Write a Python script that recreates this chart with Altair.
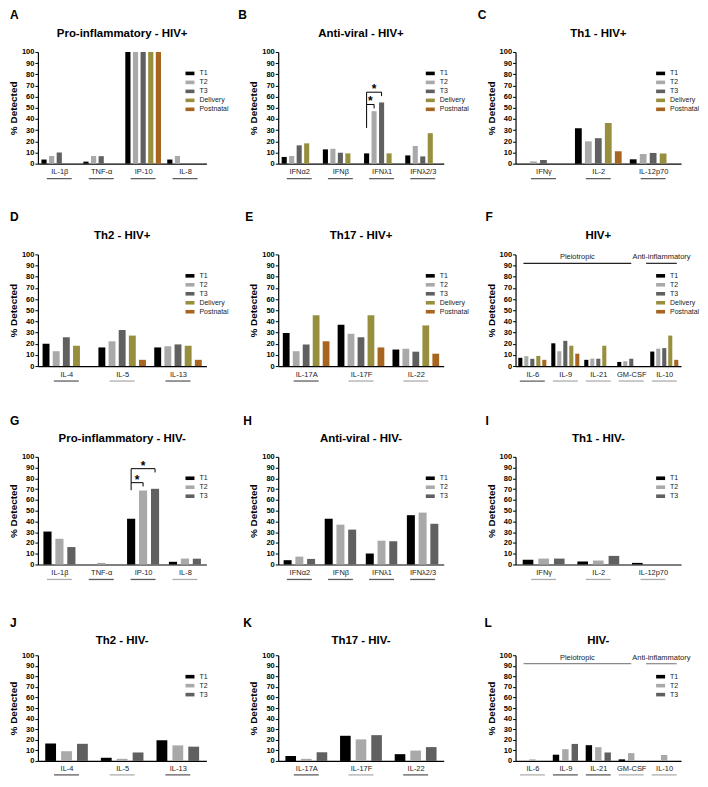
import json
import altair as alt
import pandas as pd

FONT = "Liberation Sans"

# ---------------- data ----------------
SERIES_HIV_POS = ["T1", "T2", "T3", "Delivery", "Postnatal"]
SERIES_HIV_NEG = ["T1", "T2", "T3"]
SERIES_COLORS = {"T1": "#000000", "T2": "#a9a9a9", "T3": "#606060",
                 "Delivery": "#978f3e", "Postnatal": "#a7651f"}

PRO_INFLAMMATORY = ["IL-1β", "TNF-α", "IP-10", "IL-8"]
ANTI_VIRAL = ["IFNα2", "IFNβ", "IFNλ1", "IFNλ2/3"]
TH1 = ["IFNγ", "IL-2", "IL-12p70"]
TH2 = ["IL-4", "IL-5", "IL-13"]
TH17 = ["IL-17A", "IL-17F", "IL-22"]
OTHER = ["IL-6", "IL-9", "IL-21", "GM-CSF", "IL-10"]

A_VALUES = {"T1": [3.7, 1.8, 100, 3.7], "T2": [6.9, 6.9, 100, 6.9],
            "T3": [10.0, 6.7, 100, 0], "Delivery": [0, 0, 100, 0],
            "Postnatal": [0, 0, 100, 0]}
B_VALUES = {"T1": [6.0, 12.8, 9.2, 7.4], "T2": [6.8, 13.3, 47.0, 15.8],
            "T3": [16.4, 9.8, 54.8, 6.5], "Delivery": [18.2, 9.2, 9.2, 27.3],
            "Postnatal": [0, 0, 0, 0]}
C_VALUES = {"T1": [0, 31.6, 3.9], "T2": [2.0, 20.0, 8.7], "T3": [3.3, 22.8, 9.6],
            "Delivery": [0, 36.4, 9.1], "Postnatal": [0, 11.1, 0]}
D_VALUES = {"T1": [20.0, 16.7, 16.7], "T2": [13.3, 22.2, 17.8], "T3": [25.8, 32.3, 19.4],
            "Delivery": [18.2, 27.3, 18.2], "Postnatal": [0, 5.6, 5.6]}
E_VALUES = {"T1": [29.6, 37.0, 14.8], "T2": [13.3, 28.9, 15.6], "T3": [19.4, 25.8, 12.9],
            "Delivery": [45.5, 45.5, 36.4], "Postnatal": [22.2, 16.7, 11.1]}
F_VALUES = {"T1": [7.4, 20.4, 5.6, 3.7, 13.0], "T2": [8.9, 13.3, 6.7, 4.4, 15.6],
            "T3": [6.5, 22.6, 6.5, 6.5, 16.1], "Delivery": [9.1, 18.2, 18.2, 0, 27.3],
            "Postnatal": [5.6, 11.1, 0, 0, 5.6]}
G_VALUES = {"T1": [30.6, 0, 42.5, 2.5], "T2": [23.9, 1.5, 68.7, 5.5], "T3": [16.2, 0, 70.3, 5.4]}
H_VALUES = {"T1": [4.0, 42.5, 10.2, 45.8], "T2": [7.3, 37.0, 22.1, 48.2], "T3": [5.2, 32.4, 21.6, 37.8]}
I_VALUES = {"T1": [4.3, 2.8, 1.5], "T2": [5.5, 3.7, 0], "T3": [5.5, 8.0, 0]}
J_VALUES = {"T1": [16.5, 3.0, 19.5], "T2": [9.2, 2.0, 14.7], "T3": [16.2, 8.0, 13.5]}
K_VALUES = {"T1": [4.6, 23.8, 6.4], "T2": [2.0, 20.4, 9.8], "T3": [8.2, 24.4, 13.1]}
L_VALUES = {"T1": [0, 5.9, 14.9, 1.5, 0], "T2": [1.5, 11.1, 13.0, 7.4, 5.6],
            "T3": [0, 16.1, 8.0, 0, 0]}

FAMILIES = [("Pleiotropic", ["IL-6", "IL-9", "IL-21", "GM-CSF"]),
            ("Anti-inflammatory", ["IL-10"])]

# significance comparisons: cytokine, series a, series b, bracket level, label
B_SIG = [("IFNλ1", "T1", "T2", 53, "*"), ("IFNλ1", "T1", "T3", 64, "*")]
B_SIG_LEG = 32
G_SIG = [("IP-10", "T1", "T2", 76, "*"), ("IP-10", "T1", "T3", 89, "*")]
G_SIG_LEG = 69

UNDERLINE_GRAY = {"D": ["IL-5"], "E": ["IL-17F", "IL-22"],
                  "F": ["IL-9", "IL-21", "GM-CSF", "IL-10"], "G": ["IL-1β", "IL-8"],
                  "I": ["IFNγ", "IL-2", "IL-12p70"], "J": ["IL-5"], "K": ["IL-17F"],
                  "L": ["IL-6", "GM-CSF", "IL-10"]}

# ---------------- layout ----------------
COL_W = [169, 166, 166]
ROW_H = [112, 112, 108, 106]
ROW_SPACING = 91
COL_SPACING = 72
LEGEND_X = [148, 148, 141]
LETTER_DX = {"A": -28, "B": -40, "C": -38, "D": -28, "E": -33, "F": -30,
             "G": -28, "H": -35, "I": -30, "J": -28, "K": -35, "L": -31}
LETTER_DY = [-42, -42, -41, -37]
TITLE_DY = [-15, -15, -15, -11]
UNDER_DY = [15, 15, 15, 14]
FAMILY_SPAN = {"Pleiotropic": (0.27, 0.0), "Anti-inflammatory": (0.55, 0.38)}
BAR_FRAC = 0.68
RECT = "M-1,-0.4L1,-0.4L1,0.4L-1,0.4Z"


def text_layer(txt, x, y, **kw):
    return alt.Chart(pd.DataFrame({"t": [txt]})).mark_text(font=FONT, **kw).encode(
        text="t:N", x=alt.value(x), y=alt.value(y))


def make_panel(idx, letter, title, cytokines, values, series, show_legend=True,
               sig=None, sig_leg=None, families=None, family_color="#222"):
    row, col = divmod(idx, 3)
    w, h = COL_W[col], ROW_H[row]
    ns = len(series)
    pitch = ns + 0.5
    c0 = (ns - 1) / 2
    gidx = {c: i for i, c in enumerate(cytokines)}
    sidx = {s: i for i, s in enumerate(series)}

    def slot(c, s):
        return gidx[c] * pitch + sidx[s]

    def center(c):
        return gidx[c] * pitch + c0

    recs = [dict(cytokine=c, series=s, value=values[s][gi], gi=gi, si=si)
            for si, s in enumerate(series) for gi, c in enumerate(cytokines)
            if values[s][gi] > 0]
    df = pd.DataFrame(recs)
    xmax = (len(cytokines) - 1) * pitch + ns - 1 + 0.8
    xs = alt.Scale(domain=[-0.8, xmax], nice=False, zero=False, padding=0)
    ys = alt.Scale(domain=[0, 100], nice=False, padding=0)

    centers = [center(c) for c in cytokines]
    label_expr = (json.dumps(cytokines, ensure_ascii=False)
                  + f"[round((datum.value - {c0}) / {pitch})]")
    xaxis = alt.Axis(values=centers, labelExpr=label_expr, ticks=False, grid=False,
                     title=None, domainColor="black", domainWidth=1.2,
                     labelFont=FONT, labelFontSize=7.5, labelColor="#222",
                     labelPadding=4, labelOverlap=False, labelBound=False)
    yaxis = alt.Axis(values=list(range(0, 101, 10)), title="% Detected",
                     titleFont=FONT, titleFontSize=10, titleFontWeight="bold",
                     titleColor="black", titlePadding=3,
                     labelFont=FONT, labelFontSize=7.5, labelFontWeight="bold",
                     labelColor="black", labelPadding=1, labelOverlap=False,
                     tickSize=3, tickColor="black", tickWidth=1,
                     domainColor="black", domainWidth=1.2, grid=False)
    if show_legend:
        legend = alt.Legend(orient="none", legendX=LEGEND_X[col], legendY=17, title=None,
                            symbolType=RECT, symbolSize=81, symbolStrokeWidth=0,
                            labelFont=FONT, labelFontSize=7, labelColor="#222",
                            labelOffset=5, rowPadding=1, padding=0)
    else:
        legend = None

    def X(field):
        return alt.X(field, scale=xs, axis=xaxis)

    def Y(field):
        return alt.Y(field, scale=ys, axis=yaxis)

    bars = alt.Chart(df).transform_calculate(
        x0=f"datum.gi * {pitch} + datum.si - {BAR_FRAC / 2}",
        x1=f"datum.gi * {pitch} + datum.si + {BAR_FRAC / 2}",
        base="0",
    ).mark_bar(orient="vertical").encode(
        x=X("x0:Q"),
        x2="x1:Q",
        y=Y("value:Q"),
        y2="base:Q",
        color=alt.Color("series:N", scale=alt.Scale(domain=series,
                        range=[SERIES_COLORS[s] for s in series]), legend=legend),
    )
    layers = [bars]

    gray = UNDERLINE_GRAY.get(letter, [])
    udf = pd.DataFrame({"cytokine": cytokines, "center": centers,
                        "gray": [c in gray for c in cytokines]})
    for is_gray, colr in [(False, "#1a1a1a"), (True, "#8a8a8a")]:
        sub = udf[udf["gray"] == is_gray]
        if len(sub):
            layers.append(alt.Chart(sub).mark_tick(
                orient="horizontal", size=25, thickness=1.3, color=colr).encode(
                x=X("center:Q"),
                y=alt.value(h + UNDER_DY[row])))

    if sig:
        segs, stars = [], []
        top = max(s[3] for s in sig)
        xa = slot(sig[0][0], sig[0][1])
        segs.append(dict(x=xa, x2=xa, y=top, y2=sig_leg))
        for c, a, b, lvl, lab in sig:
            xa, xb = slot(c, a), slot(c, b)
            segs.append(dict(x=xa, x2=xb, y=lvl, y2=lvl))
            segs.append(dict(x=xb, x2=xb, y=lvl, y2=lvl - 3.5))
            stars.append(dict(x=(xa + xb) / 2, y=lvl, t=lab))
        layers.append(alt.Chart(pd.DataFrame(segs)).mark_rule(color="black", strokeWidth=1).encode(
            x=X("x:Q"), x2="x2:Q", y=Y("y:Q"), y2="y2:Q"))
        layers.append(alt.Chart(pd.DataFrame(stars)).mark_text(
            font=FONT, fontSize=12, fontWeight="bold", baseline="alphabetic", dy=1).encode(
            x=X("x:Q"), y=Y("y:Q"), text="t:N"))

    if families:
        frows = []
        for name, members in families:
            a, b = FAMILY_SPAN[name]
            lo = center(members[0]) - a * pitch
            hi = center(members[-1]) + b * pitch
            frows.append(dict(name=name, lo=lo, hi=hi, mid=(lo + hi) / 2, yl=92, yt=97.5))
        fdf = pd.DataFrame(frows)
        layers.append(alt.Chart(fdf).mark_rule(color=family_color, strokeWidth=1.2).encode(
            x=X("lo:Q"), x2="hi:Q", y=Y("yl:Q")))
        layers.append(alt.Chart(fdf).mark_text(
            font=FONT, fontSize=7.5, color="#222", baseline="middle").encode(
            x=X("mid:Q"), y=Y("yt:Q"), text="name:N"))

    layers.append(text_layer(letter, LETTER_DX[letter], LETTER_DY[row], fontSize=12,
                             fontWeight="bold", align="left", baseline="top"))
    layers.append(text_layer(title, w / 2, TITLE_DY[row], fontSize=11.5,
                             fontWeight="bold", align="center", baseline="alphabetic"))

    return alt.layer(*layers).properties(width=w, height=h)


panels = [
    make_panel(0, "A", "Pro-inflammatory - HIV+", PRO_INFLAMMATORY, A_VALUES, SERIES_HIV_POS),
    make_panel(1, "B", "Anti-viral - HIV+", ANTI_VIRAL, B_VALUES, SERIES_HIV_POS,
               sig=B_SIG, sig_leg=B_SIG_LEG),
    make_panel(2, "C", "Th1 - HIV+", TH1, C_VALUES, SERIES_HIV_POS),
    make_panel(3, "D", "Th2 - HIV+", TH2, D_VALUES, SERIES_HIV_POS),
    make_panel(4, "E", "Th17 - HIV+", TH17, E_VALUES, SERIES_HIV_POS),
    make_panel(5, "F", "HIV+", OTHER, F_VALUES, SERIES_HIV_POS, families=FAMILIES),
    make_panel(6, "G", "Pro-inflammatory - HIV-", PRO_INFLAMMATORY, G_VALUES, SERIES_HIV_NEG,
               sig=G_SIG, sig_leg=G_SIG_LEG),
    make_panel(7, "H", "Anti-viral - HIV-", ANTI_VIRAL, H_VALUES, SERIES_HIV_NEG),
    make_panel(8, "I", "Th1 - HIV-", TH1, I_VALUES, SERIES_HIV_NEG),
    make_panel(9, "J", "Th2 - HIV-", TH2, J_VALUES, SERIES_HIV_NEG),
    make_panel(10, "K", "Th17 - HIV-", TH17, K_VALUES, SERIES_HIV_NEG, show_legend=False),
    make_panel(11, "L", "HIV-", OTHER, L_VALUES, SERIES_HIV_NEG, families=FAMILIES,
               family_color="#8a8a8a"),
]

chart = alt.concat(
    *panels, columns=3, spacing={"row": ROW_SPACING, "column": COL_SPACING}, bounds="flush"
).resolve_scale(
    x="independent", y="independent", color="independent"
).properties(padding=0).configure(font=FONT).configure_view(stroke=None)

chart.save("out.html", embed_options={"renderer": "svg", "actions": False})
